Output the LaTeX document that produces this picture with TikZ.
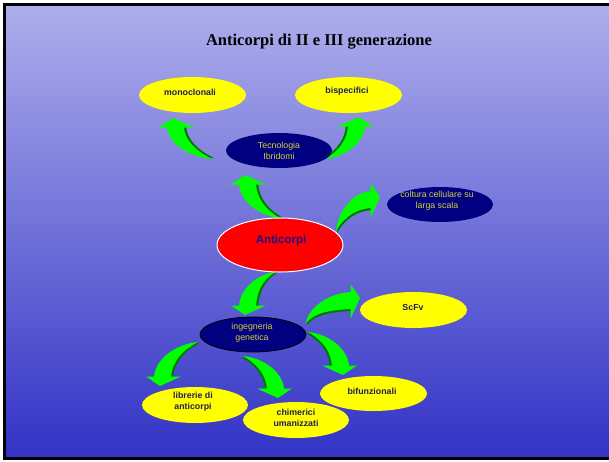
\documentclass[tikz,border=0pt]{standalone}
\usepackage{fontspec}
\setmainfont{Liberation Serif}
\setsansfont{Liberation Sans}
\usetikzlibrary{shapes.geometric,calc}
\definecolor{bgtop}{RGB}{174,174,236}
\definecolor{bgbot}{RGB}{50,50,198}
\definecolor{navy}{RGB}{0,0,128}
\definecolor{gbright}{RGB}{0,255,0}
\definecolor{gdark}{RGB}{0,120,0}
\definecolor{ylw}{RGB}{255,255,0}
\definecolor{txtdark}{RGB}{30,30,90}
\definecolor{txtyel}{RGB}{210,210,60}
\definecolor{anttxt}{RGB}{20,20,140}
\newcommand\garrow[3]{%
 \begin{scope}[#1]
  \begin{scope}[shift={(2,-0.8)}]
   \fill[gdark] (-6,9) .. controls (-5,{9+0.5*(#3-9)}) and ({0.4*#2},{#3-2}) .. (#2,#3) .. controls ({0.55*#2},{#3-9}) and (12,{9+0.4*(#3-9)}) .. (11,9) -- cycle;
  \end{scope}
  \fill[gbright] (-6,9) .. controls (-5,{9+0.5*(#3-9)}) and ({0.4*#2},{#3-2}) .. (#2,#3) .. controls ({0.55*#2},{#3-9}) and (12,{9+0.4*(#3-9)}) .. (11,9) -- cycle;
  \fill[gbright] (0,0) -- (-14,9.5) -- (21,9.5) -- cycle;
 \end{scope}}
\tikzset{
 ell/.style={ellipse, inner sep=0pt},
 yel/.style={ell, fill=ylw},
 nav/.style={ell, fill=navy},
 ytxt/.style={font=\sffamily\bfseries\fontsize{8.8}{10.8}\selectfont, text=txtdark, align=center, inner sep=0pt},
 ntxt/.style={font=\sffamily\fontsize{8.8}{10.8}\selectfont, text=txtyel, align=center, inner sep=0pt},
}
\begin{document}
\begin{tikzpicture}[x=1pt,y=-1pt]
\useasboundingbox (0,0) rectangle (609,461);
\clip (0,0) rectangle (609,461);
\fill[white] (0,0) rectangle (609,461);
\shade[top color=bgtop,bottom color=bgbot] (4.5,4.5) rectangle (625,458.5);
\draw[line width=3pt] (4.5,4.5) rectangle (625,458.5);

\node[font=\bfseries\fontsize{16.5}{20}\selectfont, inner sep=0pt] (title) at (319,42) {Anticorpi di II e III generazione};

% arrows
\garrow{shift={(173,118)}}{39}{41}
\garrow{shift={(359,117)},xscale=-1}{34}{42}
\garrow{shift={(245,175)}}{35}{43}
\garrow{shift={(380,197)},rotate=-90}{34}{44}
\garrow{shift={(245,315)},yscale=-1}{30}{43}
\garrow{shift={(360,298)},rotate=-90}{25}{54}
\garrow{shift={(160,386)},yscale=-1}{38}{44}
\garrow{shift={(278,398)},rotate=180}{35}{42}
\garrow{shift={(343,375)},rotate=180}{35}{43}

% ellipses
\node[yel, minimum width=107, minimum height=36] (mono) at (192.5,95) {};
\node[ytxt] (monot) at (190,92) {monoclonali};
\node[yel, minimum width=107, minimum height=36] (bisp) at (348.5,95) {};
\node[ytxt] (bispt) at (347,91) {bispecifici};
\node[nav, minimum width=106, minimum height=35] (tecn) at (279,150.5) {};
\node[ntxt] (tecnt) at (279,151) {Tecnologia\\Ibridomi};
\node[ell, fill=red, draw=white, line width=1pt, minimum width=126, minimum height=54] (anti) at (280,245) {};
\node[font=\sffamily\bfseries\fontsize{11.5}{13}\selectfont, text=anttxt, inner sep=0pt] (antit) at (281,241) {Anticorpi};
\node[nav, minimum width=106, minimum height=35] (colt) at (440,204.5) {};
\node[ntxt] (coltt) at (437,201) {coltura cellulare su\\larga scala};
\node[nav, draw=black, line width=0.8pt, minimum width=106, minimum height=35] (inge) at (253,334.5) {};
\node[ntxt] (inget) at (252,332.5) {ingegneria\\genetica};
\node[yel, minimum width=107, minimum height=36] (scfv) at (413.5,310) {};
\node[ytxt] (scfvt) at (413,307) {ScFv};
\node[yel, minimum width=106, minimum height=36] (libr) at (195,405) {};
\node[ytxt] (librt) at (193,402) {librerie di\\anticorpi};
\node[yel, minimum width=106, minimum height=36] (chim) at (296,420) {};
\node[ytxt] (chimt) at (296,418) {chimerici\\umanizzati};
\node[yel, minimum width=107, minimum height=35] (bifu) at (373.5,393.5) {};
\node[ytxt] (bifut) at (372,391) {bifunzionali};
\end{tikzpicture}
\end{document}
